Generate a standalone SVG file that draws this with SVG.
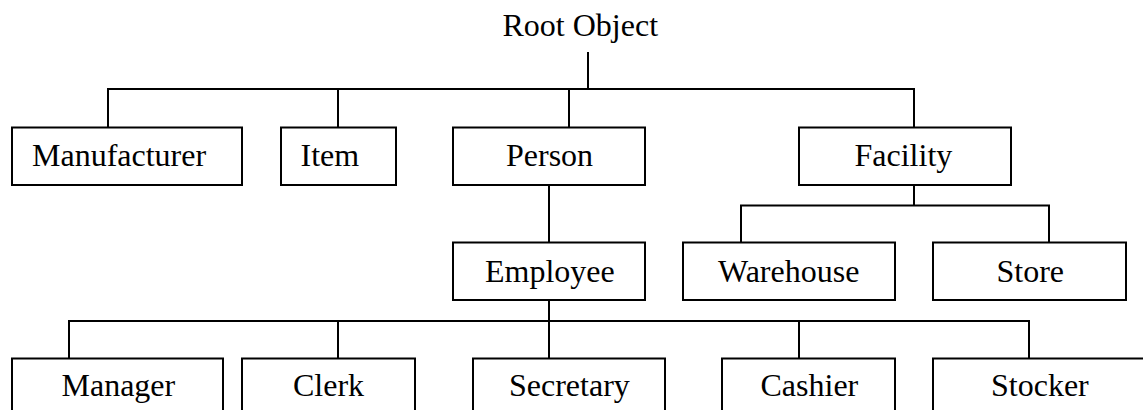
<svg xmlns="http://www.w3.org/2000/svg" width="1143" height="410" viewBox="0 0 1143 410">
  <style>
    .box { fill: #ffffff; stroke: #000000; stroke-width: 2; }
    .lbl { font-family: "Liberation Serif", "Times New Roman", serif; font-size: 32px; fill: #000000; }
    .wire { fill: none; stroke: #000000; stroke-width: 2; }
  </style>
  <rect width="1143" height="410" fill="#ffffff"/>

  <!-- connectors -->
  <g id="connectors" class="wire">
    <path d="M588,52 V89"/>
    <path d="M108,128 V89 H914 V128"/>
    <path d="M338,89 V128"/>
    <path d="M569,89 V128"/>
    <path d="M549,185 V243"/>
    <path d="M914,185 V205.5"/>
    <path d="M741,243 V205.5 H1049 V243"/>
    <path d="M549,300 V359"/>
    <path d="M69,359 V321 H1029 V359"/>
    <path d="M338,321 V359"/>
    <path d="M799,321 V359"/>
  </g>

  <!-- root label -->
  <g id="root">
    <text class="lbl" x="502.5" y="36">Root Object</text>
  </g>

  <!-- first level -->
  <g id="manufacturer">
    <rect class="box" x="12" y="127.5" width="230" height="57.5"/>
    <text class="lbl" x="32" y="166">Manufacturer</text>
  </g>
  <g id="item">
    <rect class="box" x="281" y="127.5" width="115" height="57.5"/>
    <text class="lbl" x="300.5" y="166">Item</text>
  </g>
  <g id="person">
    <rect class="box" x="453" y="127.5" width="192" height="57.5"/>
    <text class="lbl" x="506" y="166">Person</text>
  </g>
  <g id="facility">
    <rect class="box" x="799" y="127.5" width="212" height="57.5"/>
    <text class="lbl" x="854.5" y="166">Facility</text>
  </g>

  <!-- second level -->
  <g id="employee">
    <rect class="box" x="453" y="242.5" width="192" height="57.5"/>
    <text class="lbl" x="485" y="281.5">Employee</text>
  </g>
  <g id="warehouse">
    <rect class="box" x="683" y="242.5" width="212" height="57.5"/>
    <text class="lbl" x="718" y="281.5">Warehouse</text>
  </g>
  <g id="store">
    <rect class="box" x="933" y="242.5" width="193" height="57.5"/>
    <text class="lbl" x="996.5" y="281.5">Store</text>
  </g>

  <!-- third level -->
  <g id="manager">
    <rect class="box" x="12" y="358.5" width="211" height="80"/>
    <text class="lbl" x="61.5" y="396">Manager</text>
  </g>
  <g id="clerk">
    <rect class="box" x="242" y="358.5" width="173" height="80"/>
    <text class="lbl" x="293" y="396">Clerk</text>
  </g>
  <g id="secretary">
    <rect class="box" x="473" y="358.5" width="192" height="80"/>
    <text class="lbl" x="509" y="396">Secretary</text>
  </g>
  <g id="cashier">
    <rect class="box" x="722" y="358.5" width="173" height="80"/>
    <text class="lbl" x="760.5" y="396">Cashier</text>
  </g>
  <g id="stocker">
    <rect class="box" x="933" y="358.5" width="230" height="80"/>
    <text class="lbl" x="991" y="396">Stocker</text>
  </g>
</svg>
